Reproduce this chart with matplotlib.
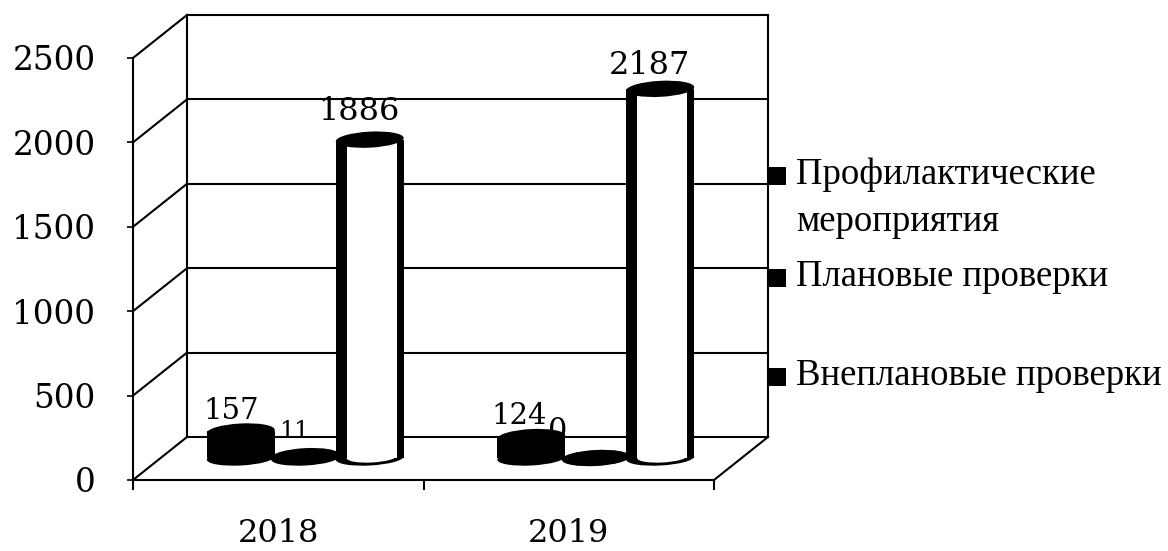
import matplotlib
matplotlib.use("Agg")
import matplotlib.pyplot as plt
from matplotlib.patches import Ellipse, Rectangle
from matplotlib.transforms import Affine2D, offset_copy

years = ["2018", "2019"]
series = ["Внеплановые проверки", "Плановые проверки", "Профилактические\nмероприятия"]
vneplan = [157, 124]
plan = [11, 0]
profil = [1886, 2187]
y_ticks = [0, 500, 1000, 1500, 2000, 2500]

W, H = 1168, 551
plt.rcParams["font.family"] = ["Liberation Serif", "DejaVu Serif"]
num_font = "DejaVu Serif"

fig = plt.figure(figsize=(W / 100, H / 100), dpi=100)
ax = fig.add_axes([133 / W, (H - 480) / H, 581 / W, 422 / H])
ax.set_xlim(0, 2)
ax.set_ylim(0, 2500)
ax.patch.set_visible(False)


def px(x, y):
    # picture pixels -> figure fraction
    return x / W, 1 - y / H


# depth of the fake 3d box, in pixels
back = offset_copy(ax.transData, fig, x=54, y=43, units="dots")
floor = offset_copy(ax.transData, fig, x=27, y=22, units="dots")
lw = 1.5

# walls
for v in y_ticks:
    ax.plot([0, 2], [v, v], transform=back, color="black", lw=lw, clip_on=False, zorder=1)
    p0 = ax.transData.transform((0, v))
    ax.plot([p0[0], p0[0] + 54], [p0[1], p0[1] + 43], transform=None, color="black", lw=lw,
            clip_on=False, zorder=1)
ax.plot([0, 0], [0, 2500], transform=back, color="black", lw=lw, clip_on=False, zorder=1)
ax.plot([2, 2], [0, 2500], transform=back, color="black", lw=lw, clip_on=False, zorder=1)
p2 = ax.transData.transform((2, 0))
ax.plot([p2[0], p2[0] + 54], [p2[1], p2[1] + 43], transform=None, color="black", lw=lw,
        clip_on=False, zorder=1)

# axes
for s in ["top", "right"]:
    ax.spines[s].set_visible(False)
for s in ["left", "bottom"]:
    ax.spines[s].set_linewidth(lw)
    ax.spines[s].set_zorder(1)
ax.set_yticks(y_ticks)
ax.set_yticklabels([str(v) for v in y_ticks], fontsize=23.5, family=num_font)
ax.tick_params(axis="y", length=4, width=1.2, pad=23)
ax.set_xticks([0.5, 1.5])
ax.set_xticklabels(years, fontsize=23, family=num_font)
ax.set_xticks([0, 1, 2], minor=True)
ax.tick_params(axis="x", which="major", length=0, pad=27)
ax.tick_params(axis="x", which="minor", length=7.5, width=1.5)


def cylinder(x, v, color):
    bw = 68 / 290.5
    c = 10 + x
    ax.bar(x, v, bw, color="black", transform=floor, clip_on=False, zorder=c)
    xb, yb = floor.transform((x, 0))
    xt, yt = floor.transform((x, v))
    ax.add_patch(Ellipse((0, 0), 68, 15, angle=3, facecolor="black", edgecolor="none",
                         transform=Affine2D().translate(xb, yb), clip_on=False, zorder=c))
    if color == "white":
        ax.bar(x + 2 / 290.5, v, 50 / 290.5, color="white", transform=floor,
               clip_on=False, zorder=c + 0.1)
        ax.add_patch(Ellipse((0, 0), 50, 11, angle=3, facecolor="white", edgecolor="none",
                             transform=Affine2D().translate(xb + 2, yb + 1), clip_on=False, zorder=c + 0.1))
    ax.add_patch(Ellipse((0, 0), 68, 16, angle=3, facecolor="black", edgecolor="none",
                         transform=Affine2D().translate(xt, yt), clip_on=False, zorder=c + 0.2))


colors = ["black", "black", "white"]
for g in range(2):
    for s, vals in enumerate([vneplan, plan, profil]):
        cylinder(g + 0.5 + (s - 1) * 0.222, vals[g], colors[s])

# value labels
labels = [(vneplan[0], 231, 411, 21), (plan[0], 294, 431, 17), (profil[0], 359, 112, 23),
          (vneplan[1], 519, 416, 21), (plan[1], 558, 432, 22), (profil[1], 650, 65, 23)]
for v, x, y, fs in labels:
    fig.text(*px(x, y), str(v), fontsize=fs, family=num_font, ha="center", va="center", zorder=50)

# legend
for name, y in zip(series, [377, 278, 176]):
    fig.add_artist(Rectangle(px(769, y + 9), 17 / W, 18 / H, transform=fig.transFigure, facecolor="black",
                             edgecolor="none", zorder=40))
    fig.text(*px(796, y - 1), name.split("\n")[0], fontsize=26.5, va="center", ha="left", zorder=50)
    if "\n" in name:
        fig.text(*px(796, y + 46), name.split("\n")[1], fontsize=26.5, va="center", ha="left", zorder=50)

fig.savefig("out.png", dpi=100)
